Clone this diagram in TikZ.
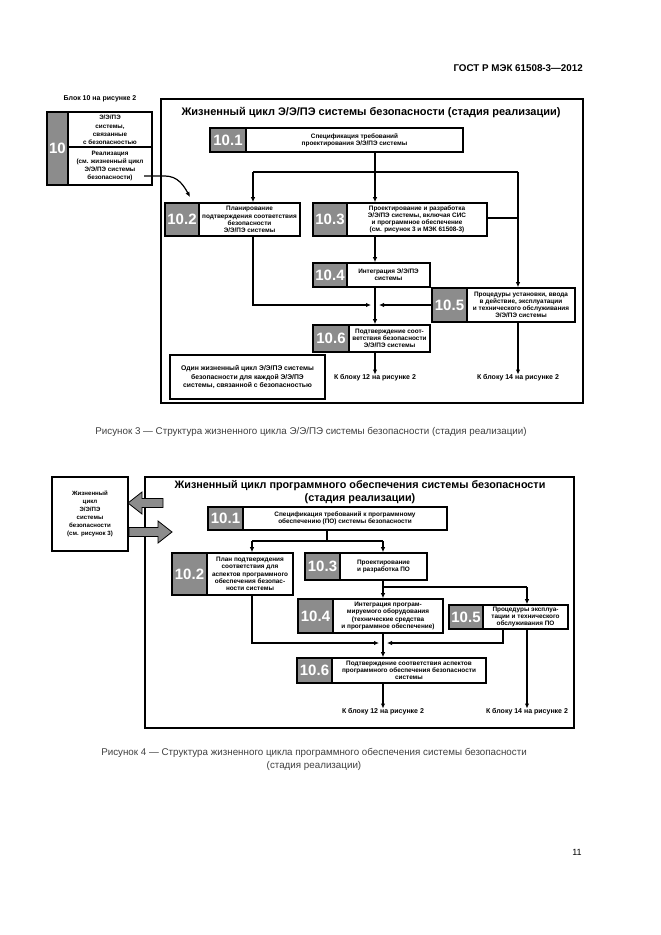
\documentclass[tikz,border=0pt]{standalone}
\usepackage{fontspec}
\setmainfont{Liberation Sans}
\usetikzlibrary{arrows.meta,fit,calc}
\definecolor{boxgray}{HTML}{8C8C8C}
\newcommand{\procbox}[8]{%
  \fill[boxgray] (#2,#3) rectangle (#6,#5);
  \node[num] at ({(#2+#6)/2},{(#3+#5)/2}) {#7};
  \node[btxt] at ({(#6+#4)/2},{(#3+#5)/2}) {#8};
  \draw[boxline] (#6,#3) -- (#6,#5);
  \draw[boxline] (#2,#3) rectangle (#4,#5);
  \path (#2,#3) coordinate (#1-a) (#4,#5) coordinate (#1-b);
  \node[fit=(#1-a)(#1-b),inner sep=0pt,outer sep=0.8pt] (#1) {};
}
\begin{document}
\begin{tikzpicture}[x=1pt,y=-1pt,
  frameline/.style={line width=2.2pt},
  boxline/.style={line width=1.6pt},
  conn/.style={line width=1.2pt},
  arr/.style={conn,-{Latex[length=5pt,width=4.5pt]}},
  num/.style={text=white,font=\bfseries\fontsize{15}{15}\selectfont,inner sep=0pt},
  btxt/.style={font=\bfseries\fontsize{6.4}{7.2}\selectfont,align=center,inner sep=0pt},
  mtxt/.style={font=\bfseries\fontsize{7}{8.5}\selectfont,align=center,inner sep=0pt},
  captxt/.style={font=\fontsize{9.8}{12}\selectfont,text=black!75,inner sep=0pt},
  ttl/.style={font=\bfseries\fontsize{11}{13}\selectfont,inner sep=0pt},
  garrow/.style={fill=boxgray,draw=black,line width=0.8pt,line join=miter},
]
\useasboundingbox[fill=white] (0,0) rectangle (661,935);

% header
\node[font=\bfseries\fontsize{9.8}{11}\selectfont,anchor=east,inner sep=0pt] (hdr) at (583,68) {ГОСТ Р МЭК 61508-3—2012};

%%%%%%%%%%%%%%%% Figure 3
\node[mtxt] (b10lbl) at (100,99) {Блок 10 на рисунке 2};
\fill[boxgray] (47,112) rectangle (68,185);
\node[num] (b10num) at (57.5,148.5) {10};
\draw[boxline] (68,112) -- (68,185);
\draw[boxline] (68,147) -- (152,147);
\draw[boxline] (47,112) rectangle (152,185);
\node[mtxt,font=\bfseries\fontsize{6.3}{8.2}\selectfont] (b10t) at (110,130) {Э/Э/ПЭ\\системы,\\связанные\\с безопасностью};
\node[mtxt,font=\bfseries\fontsize{6.3}{8.2}\selectfont] (b10b) at (110,166) {Реализация\\(см. жизненный цикл\\Э/Э/ПЭ системы\\безопасности)};
\coordinate (c10s) at (144,176);
\coordinate (c10e) at (190,197);
\draw[arr] (c10s) -- (165,176) .. controls (178,176) and (184,186) .. (c10e);

\draw[frameline] (161,99) rectangle (583,403);
\node[ttl] (t3) at (371,113) {Жизненный цикл Э/Э/ПЭ системы безопасности (стадия реализации)};

\procbox{a1}{210}{128}{463}{152}{246}{10.1}{Спецификация требований\\проектирования Э/Э/ПЭ системы}
\procbox{a2}{165}{203}{300}{236}{199}{10.2}{Планирование\\подтверждения соответствия\\безопасности\\Э/Э/ПЭ системы}
\procbox{a3}{313}{203}{487}{236}{347}{10.3}{Проектирование и разработка\\Э/Э/ПЭ системы, включая СИС\\и программное обеспечение\\(см. рисунок 3 и МЭК 61508-3)}
\procbox{a4}{313}{263}{430}{287}{347}{10.4}{Интеграция Э/Э/ПЭ\\системы}
\procbox{a5}{432}{288}{575}{322}{467}{10.5}{Процедуры установки, ввода\\в действие, эксплуатации\\и технического обслуживания\\Э/Э/ПЭ системы}
\procbox{a6}{313}{325}{430}{352}{349}{10.6}{Подтверждение соот-\\ветствия безопасности\\Э/Э/ПЭ системы}

\coordinate (ja) at (375,172);
\coordinate (jl) at (253,172);
\coordinate (jr) at (518,172);
\coordinate (jm) at (375,305);
\draw[conn] (a1.south -| ja) -- (ja);
\draw[conn] (jl) -- (jr);
\draw[arr] (jl) -- (jl |- a2.north);
\draw[arr] (ja) -- (ja |- a3.north);
\draw[arr] (jr) -- (jr |- a5.north);
\draw[conn] (a3.east |- 0,218) -- (518,218);
\draw[arr] (a3.south -| ja) -- (ja |- a4.north);
\draw[arr] (a4.south -| ja) -- (ja |- a6.north);
\draw[arr] (a2.south -| jl) -- (jl |- jm) -- ($(jm)+(-4,0)$);
\draw[arr] (a5.west |- jm) -- ($(jm)+(4,0)$);
\node[mtxt] (k12a) at (375,378) {К блоку 12 на рисунке 2};
\node[mtxt] (k14a) at (518,378) {К блоку 14 на рисунке 2};
\draw[arr] (a6.south -| ja) -- (k12a.north);
\draw[arr] (a5.south -| jr) -- (k14a.north);

\node[draw,line width=2pt,minimum width=155pt,minimum height=44pt,inner sep=0pt] (note) at (247.5,377) {};
\node[mtxt,font=\bfseries\fontsize{6.8}{8.5}\selectfont] at (note.center) {Один жизненный цикл Э/Э/ПЭ системы\\безопасности для каждой Э/Э/ПЭ\\системы, связанной с безопасностью};

\node[captxt] (cap3) at (311,432) {Рисунок 3 — Структура жизненного цикла Э/Э/ПЭ системы безопасности (стадия реализации)};

%%%%%%%%%%%%%%%% Figure 4
\draw[frameline] (145,477) rectangle (574,728);
\draw[boxline] (52,477) rectangle (128,551);
\node[mtxt,font=\bfseries\fontsize{6.1}{7.9}\selectfont] (lb) at (90,514) {Жизненный\\цикл\\Э/Э/ПЭ\\системы\\безопасности\\(см. рисунок 3)};
\draw[garrow] (128,503) -- (142,492) -- (142,498.5) -- (163,498.5) -- (163,507.5) -- (142,507.5) -- (142,514) -- cycle;
\draw[garrow] (172,532) -- (158,521) -- (158,527.5) -- (129,527.5) -- (129,536.5) -- (158,536.5) -- (158,543) -- cycle;
\node[ttl,align=center,font=\bfseries\fontsize{10.8}{12.5}\selectfont] (t4) at (360,492) {Жизненный цикл программного обеспечения системы безопасности\\(стадия реализации)};

\procbox{c1}{208}{507}{447}{530}{243}{10.1}{Спецификация требований к программному\\обеспечению (ПО) системы безопасности}
\procbox{c2}{172}{553}{293}{595}{207}{10.2}{План подтверждения\\соответствия для\\аспектов программного\\обеспечения безопас-\\ности системы}
\procbox{c3}{305}{553}{427}{580}{340}{10.3}{Проектирование\\и разработка ПО}
\procbox{c4}{298}{599}{443}{633}{333}{10.4}{Интеграция програм-\\мируемого оборудования\\(технические средства\\и программное обеспечение)}
\procbox{c5}{449}{605}{568}{629}{483}{10.5}{Процедуры эксплуа-\\тации и технического\\обслуживания ПО}
\procbox{c6}{297}{658}{486}{683}{332}{10.6}{Подтверждение соответствия аспектов\\программного обеспечения безопасности\\системы}

\coordinate (ka) at (327,541);
\coordinate (kl) at (252,541);
\coordinate (kr) at (383,541);
\coordinate (kb) at (383,587);
\coordinate (kc) at (527,587);
\coordinate (km) at (383,643);
\coordinate (kd) at (503,643);
\draw[conn] (c1.south -| ka) -- (ka);
\draw[conn] (kl) -- (kr);
\draw[arr] (kl) -- (kl |- c2.north);
\draw[arr] (kr) -- (kr |- c3.north);
\draw[arr] (c3.south -| kr) -- (kr |- c4.north);
\draw[conn] (kb) -- (kc);
\draw[arr] (kc) -- (kc |- c5.north);
\draw[arr] (c4.south -| kr) -- (kr |- c6.north);
\draw[arr] (c2.south -| kl) -- (kl |- km) -- ($(km)+(-4,0)$);
\draw[arr] (c5.south -| kd) -- (kd) -- ($(km)+(4,0)$);
\node[mtxt] (k12b) at (383,712) {К блоку 12 на рисунке 2};
\node[mtxt] (k14b) at (527,712) {К блоку 14 на рисунке 2};
\draw[arr] (c6.south -| kr) -- (k12b.north);
\draw[arr] (c5.south -| kc) -- (k14b.north);

\node[captxt,align=center,font=\fontsize{9.8}{13}\selectfont] (cap4) at (314,759) {Рисунок 4 — Структура жизненного цикла программного обеспечения системы безопасности\\(стадия реализации)};

\node[font=\fontsize{9}{11}\selectfont,inner sep=0pt] (pg) at (577,852) {11};
\end{tikzpicture}
\end{document}
